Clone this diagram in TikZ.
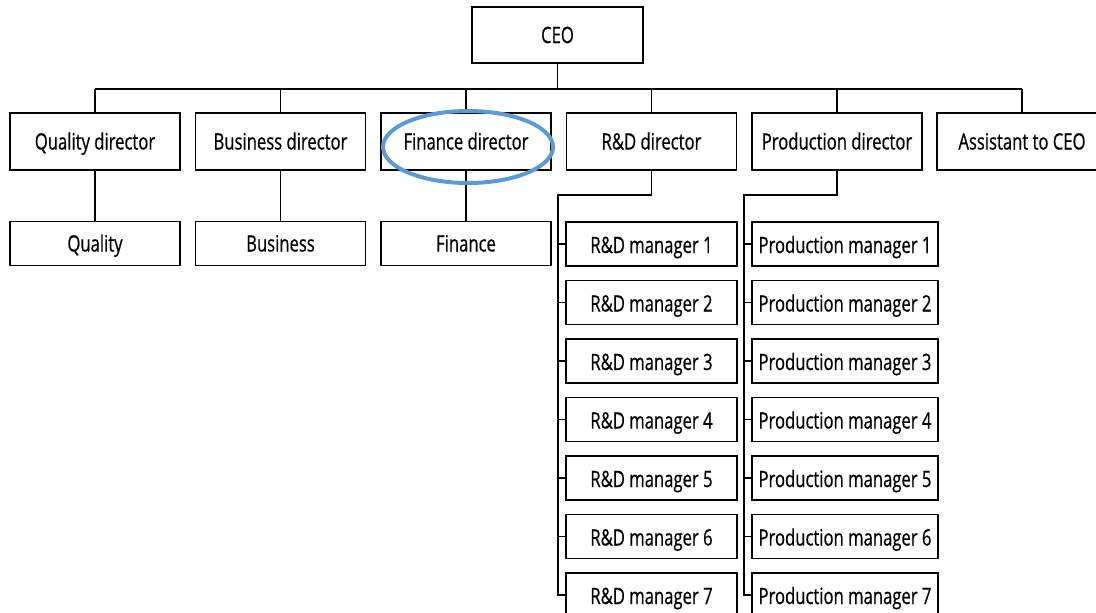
\documentclass[tikz,border=0pt]{standalone}
\usepackage{fontspec}
\setmainfont[FakeStretch=0.74,FakeBold=0.6]{Open Sans}
\definecolor{hl}{RGB}{91,155,213}
\begin{document}
\begin{tikzpicture}[x=1pt,y=-1pt,
  box/.style={draw,line width=1.9pt,minimum width=170pt,minimum height=57pt,inner sep=0pt,
    text height=18pt,text depth=2pt,font=\fontsize{22.5}{26}\selectfont},
  low/.style={box,minimum height=44pt},
  rdm/.style={low,minimum width=171pt,text height=19pt,text depth=1pt},
  pdm/.style={rdm,minimum width=186pt},
  link/.style={line width=1.9pt}]
\useasboundingbox (0,0) rectangle (1096,613);
\clip (0,0) rectangle (1096,613);
% level 0
\node[box,minimum width=171pt,minimum height=56pt] (ceo) at (557.5,35) {CEO};
% level 1
\node[box] (qd) at (95,141.5) {Quality director};
\node[box] (bd) at (280.5,141.5) {Business director};
\node[box] (fd) at (466,141.5) {Finance director};
\node[box] (rd) at (651.5,141.5) {R\&D director};
\node[box] (pd) at (837,141.5) {Production director};
\node[box] (ad) at (1022,141.5) {Assistant to CEO};
% level 2
\node[low] (q) at (95,243.5) {Quality};
\node[low] (b) at (280.5,243.5) {Business};
\node[low] (f) at (466,243.5) {Finance};
\foreach \i in {1,...,7}{
  \node[rdm] (rm\i) at (651.5,{244+(\i-1)*58.5}) {R\&D manager \i};
  \node[pdm] (pm\i) at (845,{244+(\i-1)*58.5}) {Production manager \i};
}
% connectors
\coordinate (bus) at (557.5,89);
\draw[link] (ceo.south) -- (bus);
\draw[link] (qd.north |- bus) -- (ad.north |- bus);
\foreach \n in {qd,bd,fd,rd,pd,ad}{
  \draw[link] (\n.north) -- (\n.north |- bus);
}
\draw[link] (qd.south) -- (q.north);
\draw[link] (bd.south) -- (b.north);
\draw[link] (fd.south) -- (f.north);
\coordinate (rbus) at (558,195);
\coordinate (pbus) at (744,195);
\draw[link] (rd.south) |- (rbus) |- (rm7.west);
\draw[link] (pd.south) |- (pbus) |- (pm7.west);
\foreach \i in {1,...,6}{
  \draw[link] (rm\i.west) -- (rm\i.west -| rbus);
  \draw[link] (pm\i.west) -- (pm\i.west -| pbus);
}
% highlight
\draw[hl,line width=4pt] (468,147) ellipse [x radius=85pt, y radius=36pt];
\end{tikzpicture}
\end{document}
